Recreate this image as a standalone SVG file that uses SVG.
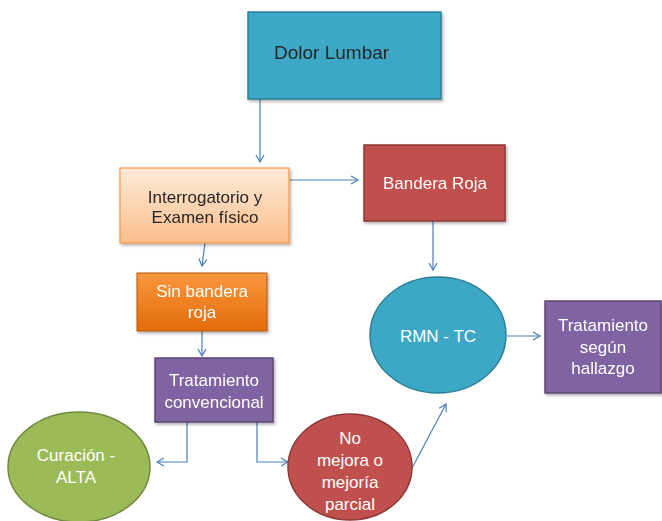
<svg xmlns="http://www.w3.org/2000/svg" width="662" height="521" viewBox="0 0 662 521">
<defs>
<style>
.t{font-family:"Liberation Sans",Arial,sans-serif;font-size:17px;text-anchor:middle}
.w{fill:#ffffff}
.d{fill:#262626}
.c{fill:none;stroke:#4A7EBB;stroke-width:1.2}
</style>
<linearGradient id="g1" x1="0" y1="0" x2="0" y2="1">
<stop offset="0" stop-color="#FEEBD9"/><stop offset="1" stop-color="#FBBE8C"/>
</linearGradient>
<linearGradient id="g2" x1="0" y1="0" x2="0" y2="1">
<stop offset="0" stop-color="#F9973E"/><stop offset="1" stop-color="#E36C0A"/>
</linearGradient>
<filter id="sh" x="-10%" y="-10%" width="130%" height="130%">
<feDropShadow dx="1.5" dy="2" stdDeviation="1.5" flood-color="#000" flood-opacity="0.3"/>
</filter>
<marker id="ah" markerWidth="10" markerHeight="10" refX="8" refY="5" orient="auto" markerUnits="userSpaceOnUse">
<path d="M1,1 L8,5 L1,9" fill="none" stroke="#4A7EBB" stroke-width="1.2"/>
</marker>
</defs>
<g id="connectors">
<path class="c" d="M260,99 V162" marker-end="url(#ah)"/>
<path class="c" d="M289,180 H358" marker-end="url(#ah)"/>
<path class="c" d="M433,221 V270" marker-end="url(#ah)"/>
<path class="c" d="M205,243 L202,266" marker-end="url(#ah)"/>
<path class="c" d="M202,331 V356" marker-end="url(#ah)"/>
<path class="c" d="M187,422 V462 H157" marker-end="url(#ah)"/>
<path class="c" d="M257,422 V462 H288" marker-end="url(#ah)"/>
<path class="c" d="M411,470 L446,404" marker-end="url(#ah)"/>
<path class="c" d="M507,336 H540" marker-end="url(#ah)"/>
</g>
<g id="dolor" filter="url(#sh)">
<rect x="248" y="12" width="193" height="87" fill="#3DA8C5" stroke="#2B7F96" stroke-width="1.5"/>
<text class="t d" x="274" y="59" style="text-anchor:start;font-size:19px">Dolor Lumbar</text>
</g>
<g id="interrogatorio" filter="url(#sh)">
<rect x="120" y="168" width="169" height="75" fill="url(#g1)" stroke="#F79646" stroke-width="1.2"/>
<text class="t d" x="205" y="203">Interrogatorio y</text>
<text class="t d" x="205" y="223">Examen físico</text>
</g>
<g id="bandera" filter="url(#sh)">
<rect x="364" y="145" width="141" height="76" fill="#C0504D" stroke="#8C3836" stroke-width="1.5"/>
<text class="t w" x="435" y="189">Bandera Roja</text>
</g>
<g id="sinbandera" filter="url(#sh)">
<rect x="137" y="273" width="130" height="58" fill="url(#g2)" stroke="#B65708" stroke-width="1"/>
<text class="t w" x="202" y="297">Sin bandera</text>
<text class="t w" x="202" y="318">roja</text>
</g>
<g id="convencional" filter="url(#sh)">
<rect x="155" y="358" width="118" height="64" fill="#8064A2" stroke="#5C4776" stroke-width="1.5"/>
<text class="t w" x="214" y="386">Tratamiento</text>
<text class="t w" x="214" y="408">convencional</text>
</g>
<g id="curacion">
<ellipse cx="79" cy="467" rx="71" ry="55" fill="#9BBB59" stroke="#71893F" stroke-width="1.5"/>
<text class="t w" x="76" y="461">Curación -</text>
<text class="t w" x="76" y="483">ALTA</text>
</g>
<g id="nomejora">
<ellipse cx="350" cy="467" rx="62" ry="53" fill="#C0504D" stroke="#8C3836" stroke-width="1.5"/>
<text class="t w" x="350" y="444">No</text>
<text class="t w" x="350" y="466">mejora o</text>
<text class="t w" x="350" y="488">mejoría</text>
<text class="t w" x="350" y="510">parcial</text>
</g>
<g id="rmn">
<ellipse cx="438" cy="335" rx="68" ry="58" fill="#3DA8C5" stroke="#2B7F96" stroke-width="1.5"/>
<text class="t w" x="438" y="342">RMN - TC</text>
</g>
<g id="hallazgo" filter="url(#sh)">
<rect x="545" y="301" width="116" height="92" fill="#8064A2" stroke="#5C4776" stroke-width="1.5"/>
<text class="t w" x="603" y="331">Tratamiento</text>
<text class="t w" x="603" y="353">según</text>
<text class="t w" x="603" y="374">hallazgo</text>
</g>
</svg>
